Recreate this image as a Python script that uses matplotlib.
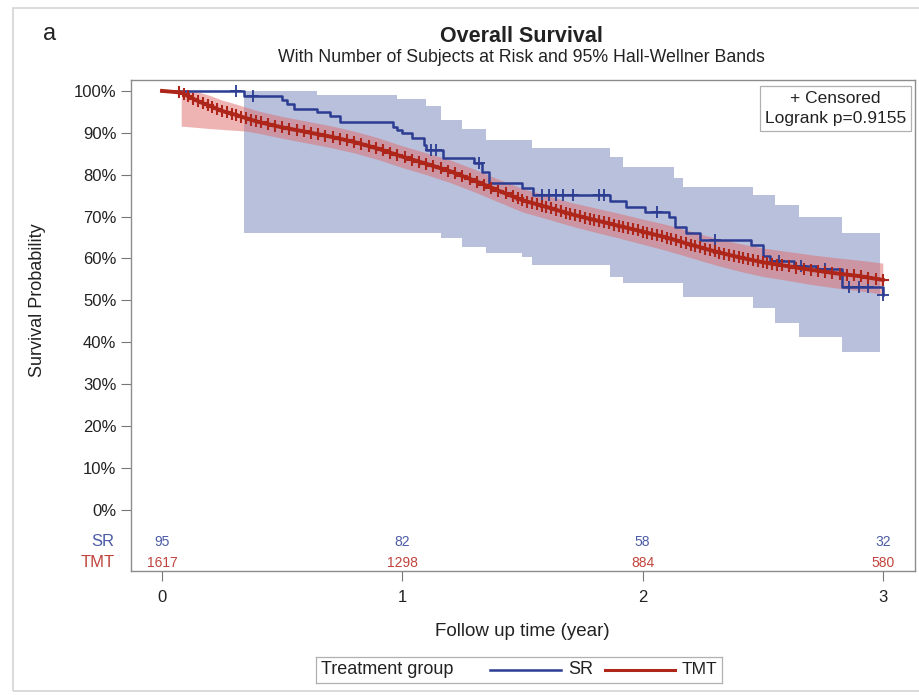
import numpy as np
import matplotlib
matplotlib.use("Agg")
import matplotlib.pyplot as plt
from matplotlib.patches import Rectangle
from matplotlib.lines import Line2D

plt.rcParams['font.family'] = ['Liberation Sans', 'DejaVu Sans']

# SR (blue) Kaplan-Meier estimate, % surviving, step after each time
sr_t = [0, 0.34, 0.50, 0.52, 0.55, 0.645, 0.70, 0.74, 0.96, 0.98, 1.00, 1.04, 1.09, 1.10,
        1.17, 1.30, 1.33, 1.36, 1.50, 1.545, 1.865, 1.93, 2.01, 2.11, 2.135, 2.18, 2.24,
        2.45, 2.50, 2.53, 2.63, 2.72, 2.83, 3.0]
sr_s = [100, 98.9, 97.9, 96.9, 95.6, 95.0, 93.9, 92.6, 91.5, 90.6, 90.0, 88.8, 87.1, 85.9,
        84.0, 82.8, 80.6, 78.0, 76.8, 75.2, 73.6, 72.4, 71.2, 70.0, 67.6, 66.0, 64.4,
        63.2, 60.5, 59.3, 58.3, 57.5, 53.3, 51.3]
sr_cens = [0.31, 0.38, 1.12, 1.14, 1.32, 1.58, 1.61, 1.64, 1.67, 1.71, 1.82, 1.84, 2.06,
           2.30, 2.57, 2.66, 2.76, 2.86, 2.90, 2.94, 3.0]

# SR Hall-Wellner band
sr_band_t = [0.34, 0.645, 0.98, 1.10, 1.16, 1.25, 1.35, 1.50, 1.54, 1.865, 1.92, 2.13, 2.17,
             2.46, 2.55, 2.65, 2.83, 2.99]
sr_band_hi = [100, 99.0, 98.0, 96.5, 93.0, 91.0, 88.3, 88.3, 86.4, 84.3, 81.9, 79.2, 77.1,
              75.2, 72.8, 70.0, 66.1, 66.1]
sr_band_lo = [66.1, 66.1, 66.1, 66.1, 64.9, 62.8, 61.3, 60.4, 58.5, 55.6, 54.2, 54.2, 50.8,
              48.2, 44.6, 41.3, 37.7, 37.7]

# TMT (red) Kaplan-Meier estimate (many tiny steps -> drawn as a line)
tmt_t = [0, 0.08, 0.12, 0.16, 0.2, 0.25, 0.3, 0.35, 0.4, 0.5, 0.6, 0.7, 0.8, 0.9, 1.0, 1.1,
         1.2, 1.3, 1.4, 1.5, 1.6, 1.7, 1.8, 1.9, 2.0, 2.1, 2.2, 2.3, 2.4, 2.5, 2.6, 2.7,
         2.8, 2.9, 3.0]
tmt_s = [100, 99.6, 98.4, 97.3, 96.4, 95.2, 94.4, 93.5, 92.6, 91.3, 90.2, 89.1, 87.8, 86.2,
         84.3, 82.6, 80.8, 78.6, 76.2, 73.9, 72.3, 70.6, 69.2, 67.8, 66.4, 65.0, 63.3, 61.7,
         60.3, 59.1, 58.2, 57.3, 56.5, 55.8, 54.9]
tmt_band_hi = [100, 100, 100, 99.6, 98.9, 97.8, 97.0, 96.1, 95.2, 93.9, 92.8, 91.7, 90.4,
               88.8, 86.9, 85.2, 83.5, 81.3, 78.9, 76.7, 75.1, 73.4, 72.1, 70.8, 69.4, 68.1,
               66.5, 64.9, 63.6, 62.5, 61.7, 60.9, 60.2, 59.6, 58.9]
tmt_band_lo = [np.nan, 91.6, 91.4, 91.2, 91.0, 90.8, 90.6, 90.4, 89.9, 88.7, 87.6, 86.5,
               85.2, 83.6, 81.7, 80.0, 78.1, 75.9, 73.5, 71.1, 69.5, 67.8, 66.3, 64.9, 63.4,
               61.9, 60.2, 58.5, 57.0, 55.7, 54.8, 53.8, 53.0, 52.3, 51.5]
tmt_cens = [0.07, 0.09, 0.11, 0.13, 0.15, 0.17, 0.19, 0.21, 0.23, 0.25, 0.27, 0.29, 0.31,
            0.33, 0.35, 0.37, 0.39, 0.41, 0.44, 0.47, 0.50, 0.53, 0.56, 0.59, 0.62, 0.65,
            0.68, 0.71, 0.74, 0.77, 0.80, 0.83, 0.86, 0.89, 0.92, 0.95, 0.98, 1.01, 1.04,
            1.07, 1.10, 1.13, 1.16, 1.19, 1.22, 1.25, 1.28, 1.31, 1.34, 1.37, 1.40, 1.43,
            1.46, 1.48, 1.50, 1.52, 1.54, 1.56, 1.58, 1.60, 1.62, 1.64, 1.66, 1.68, 1.70,
            1.72, 1.74, 1.76, 1.78, 1.80, 1.82, 1.84, 1.86, 1.88, 1.90, 1.92, 1.94, 1.96,
            1.98, 2.00, 2.02, 2.04, 2.06, 2.08, 2.10, 2.12, 2.14, 2.16, 2.18, 2.20, 2.22,
            2.24, 2.26, 2.28, 2.30, 2.32, 2.34, 2.36, 2.38, 2.40, 2.42, 2.44, 2.46, 2.48,
            2.50, 2.52, 2.54, 2.56, 2.58, 2.61, 2.64, 2.67, 2.70, 2.73, 2.76, 2.79, 2.82,
            2.85, 2.88, 2.91, 2.94, 2.97, 3.0]

# numbers at risk
risk_t = [0, 1, 2, 3]
risk_sr = [95, 82, 58, 32]
risk_tmt = [1617, 1298, 884, 580]

blue = '#2B3C92'
red = '#AE2519'
blue_txt = '#4B5BA6'
red_txt = '#C0443C'
txt = '#222222'

W, H = 919, 695
fig = plt.figure(figsize=(W / 100, H / 100), dpi=100)
ax = fig.add_axes([131 / W, 1 - 571 / H, (915 - 131) / W, (571 - 80) / H])


def step_at(ts, ss, x):
    idx = np.searchsorted(ts, x, side='right') - 1
    return np.asarray(ss)[idx]


ax.fill_between(sr_band_t, sr_band_lo, sr_band_hi, step='post', color='#7282BA',
                alpha=0.5, lw=0)
ax.fill_between(tmt_t, tmt_band_lo, tmt_band_hi, color='#DE6B6B', alpha=0.5, lw=0)

ax.step(sr_t, sr_s, where='post', color=blue, lw=1.8)
ax.plot(sr_cens, step_at(sr_t, sr_s, sr_cens), '+', color=blue, ms=8, mew=1.3)
ax.plot(tmt_t, tmt_s, color=red, lw=2.8)
ax.plot(tmt_cens, np.interp(tmt_cens, tmt_t, tmt_s), '+', color=red, ms=8, mew=1.5)

ax.set_xlim(-0.129, 3.134)
ax.set_ylim(-14.6, 102.6)
ax.set_yticks(range(0, 101, 10))
ax.set_yticklabels([f'{v}%' for v in range(0, 101, 10)])
ax.set_xticks(risk_t)
ax.tick_params(colors='#777777', labelcolor=txt, labelsize=12, length=7, width=0.8)
ax.tick_params(axis='x', pad=7)
for sp in ax.spines.values():
    sp.set_color('#8c8c8c')
    sp.set_linewidth(1.0)

for t, a, b in zip(risk_t, risk_sr, risk_tmt):
    ax.text(t, -7.6, str(a), color=blue_txt, ha='center', va='center', fontsize=10)
    ax.text(t, -12.6, str(b), color=red_txt, ha='center', va='center', fontsize=10)
ytr = ax.get_yaxis_transform()
ax.text(-0.021, -7.6, 'SR', color=blue_txt, ha='right', va='center', fontsize=12,
        transform=ytr, clip_on=False)
ax.text(-0.021, -12.6, 'TMT', color=red_txt, ha='right', va='center', fontsize=12,
        transform=ytr, clip_on=False)

ax.text(0.9885, 0.978, '+ Censored\nLogrank p=0.9155', transform=ax.transAxes, ha='right',
        va='top', multialignment='center', fontsize=12.5, linespacing=1.45, color=txt,
        bbox=dict(boxstyle='square,pad=0.3', fc='white', ec='#b0b0b0', lw=0.9))

fig.text(521 / W, 1 - 37 / H, 'Overall Survival', ha='center', va='center',
         fontsize=15.5, fontweight='bold', color=txt)
fig.text(521 / W, 1 - 58 / H, 'With Number of Subjects at Risk and 95% Hall-Wellner Bands',
         ha='center', va='center', fontsize=12.8, color=txt)
fig.text(50 / W, 1 - 34 / H, 'a', ha='center', va='center', fontsize=17, color=txt)
fig.text(38 / W, 1 - 300 / H, 'Survival Probability', rotation=90, ha='center',
         va='center', fontsize=13, color=txt)
fig.text(522 / W, 1 - 631 / H, 'Follow up time (year)', ha='center', va='center',
         fontsize=13.5, color=txt)

# outer frame
fig.add_artist(Rectangle((13 / W, 1 - 691 / H), 1.0, (691 - 8) / H, transform=fig.transFigure,
                         fill=False, ec='#d4d4d4', lw=1.2))

# bottom legend
lg = fig.add_axes([316 / W, 1 - 683 / H, (722 - 316) / W, 26 / H])
lg.set_xlim(316, 722)
lg.set_ylim(0, 26)
lg.set_xticks([])
lg.set_yticks([])
for sp in lg.spines.values():
    sp.set_color('#b0b0b0')
    sp.set_linewidth(0.9)
lg.text(321, 13, 'Treatment group', ha='left', va='center', fontsize=13, color=txt)
lg.add_line(Line2D([490, 561], [13, 13], color=blue, lw=1.8))
lg.text(568, 13, 'SR', ha='left', va='center', fontsize=13, color=txt)
lg.add_line(Line2D([605, 675], [13, 13], color=red, lw=2.2))
lg.text(682, 13, 'TMT', ha='left', va='center', fontsize=12.5, color=txt)

fig.savefig('out.png', dpi=100)
